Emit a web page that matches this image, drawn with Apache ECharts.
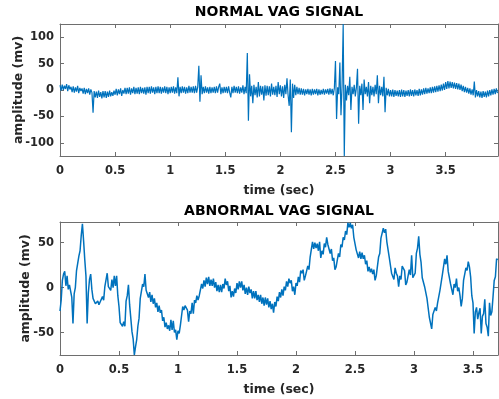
<!DOCTYPE html>
<html>
<head>
<meta charset="utf-8">
<script src="https://cdn.jsdelivr.net/npm/echarts@6/dist/echarts.min.js"></script>
<style>
html,body{margin:0;padding:0;background:#fff;}
#chart{width:499px;height:399px;}
</style>
</head>
<body>
<div id="chart"></div>
<script>
// ---- Data ----
const titleTop = 'NORMAL VAG SIGNAL';
const titleBottom = 'ABNORMAL VAG SIGNAL';
const xName = 'time (sec)';
const yName = 'amplitude (mv)';

const sampleStepTop = 0.01;     // seconds between samples (normal signal)
const sampleStepBottom = 0.01;  // seconds between samples (abnormal signal)

// Normal VAG signal, mv, one row per 0.1 s
const normalSignal = [
  9,-1,10,0,8,2,11,-2,9,1,
  6,-4,7,-5,5,-3,8,-6,4,-2,
  3,-7,4,-8,2,-6,3,-9,1,-5,
  -43,-2,-14,-3,-15,-1,-13,-4,-16,-2,
  -14,-2,-15,-3,-13,-1,-12,-4,-11,-1,
  -9,2,-10,1,-8,3,-11,0,-7,4,
  -8,4,-7,5,-9,3,-6,6,-8,4,
  -7,5,-8,6,-6,4,-7,5,-9,6,
  -6,6,-7,7,-5,5,-8,6,-6,7,
  -6,6,-7,5,-5,7,-6,6,-8,5,
  -6,6,-5,7,-7,5,-6,24,-12,6,
  -6,7,-5,6,-7,5,-6,8,-5,6,
  -5,7,-6,8,-5,6,46,-22,28,-8,
  6,-6,7,-5,5,-7,6,-6,5,-5,
  6,-6,7,-5,6,12,-8,5,-6,6,
  -5,6,-6,7,-5,-14,6,-6,8,-5,
  6,-6,7,-7,5,-5,9,-8,6,-6,
  70,-58,30,-12,8,-25,10,-10,6,-14,
  15,-12,8,-9,7,-20,9,-11,8,-10,
  7,-12,12,-9,6,-10,8,-13,15,-8,
  9,-12,7,-15,10,-8,22,-10,-30,20,
  -80,12,-15,10,-10,6,-8,4,-9,3,
  -9,2,-10,1,-8,2,-9,1,-10,2,
  -9,1,-8,2,-10,1,-9,0,-8,2,
  -9,1,-7,2,-9,3,-8,2,-10,4,
  55,-55,5,-8,52,-48,8,125,-125,10,
  -20,8,-10,25,-38,6,-8,10,-12,5,
  40,-64,8,-10,12,-38,20,-8,6,-12,
  15,-25,8,-10,6,-12,10,-8,28,-25,
  8,-10,6,-12,25,-42,4,-10,2,-12,
  0,-12,1,-13,0,-11,-1,-12,0,-13,
  1,-12,0,-13,-1,-11,0,-12,1,-11,
  0,-12,1,-10,0,-11,2,-10,1,-9,
  3,-8,4,-7,3,-6,5,-6,6,-5,
  7,-4,8,-3,9,-2,10,-1,12,0,
  15,2,17,3,16,4,15,3,14,2,
  13,1,12,0,10,-2,8,-4,6,-5,
  4,-7,3,-9,1,-10,16,-14,0,-12,
  -2,-14,-3,-15,-2,-13,-3,-14,-1,-12,
  0,-10,1,-9,2,-8,3,-6
];

// Abnormal VAG signal, mv, one row per 0.1 s
const abnormalSignal = [
  -26,-14,8,15,18,2,13,-2,3,1,
  -11,-40,-7,0,19,19,35,41,58,71,
  52,31,13,-40,-6,9,15,-2,-12,-14,
  -18,-19,-15,-19,-16,-15,-10,-14,1,1,
  16,1,1,-3,9,0,13,2,13,-9,
  -21,-39,-37,-43,-38,-43,-15,-9,3,-19,
  -21,-49,-57,-75,-66,-58,-43,-34,-12,-10,
  4,1,15,-3,-1,-11,-5,-16,-8,-18,
  -12,-22,-17,-27,-20,-28,-25,-37,-33,-44,
  -39,-46,-42,-48,-36,-47,-37,-50,-47,-58,
  -48,-51,-42,-40,-21,-25,-20,-21,-25,-38,
  -26,-29,-17,-29,-14,-17,-9,-14,-9,-9,
  4,-1,8,1,11,4,12,2,9,2,
  10,0,6,-4,3,-5,3,-5,4,-1,
  10,3,7,-4,2,-11,-4,-10,-1,-6,
  5,-2,7,0,7,-3,3,-7,0,-8,
  1,-6,-2,-12,-4,-12,-4,-14,-8,-16,
  -8,-18,-11,-20,-11,-19,-12,-22,-15,-24,
  -18,-28,-16,-21,-10,-15,-5,-11,-2,-9,
  1,-3,7,1,10,5,8,-4,1,-8,
  5,2,12,6,19,16,20,8,13,11,
  24,20,34,35,51,43,50,44,49,41,
  51,33,41,37,49,45,56,48,49,38,
  43,30,33,20,23,23,38,34,48,45,
  56,53,63,59,72,67,72,66,70,56,
  57,42,43,33,40,32,39,32,36,26,
  30,18,23,17,21,15,20,8,13,14,
  34,38,55,53,66,61,65,51,51,34,
  32,16,14,9,22,16,13,1,13,9,
  24,23,19,3,6,7,20,14,36,11,
  13,16,38,44,57,37,28,11,13,1,
  2,-12,-11,-33,-31,-46,-30,-32,-22,-26,
  -17,-19,-3,-4,14,15,32,26,36,18,
  17,4,5,-8,4,0,10,-4,0,-9,
  -21,-12,8,7,22,19,29,23,12,-9,
  -17,-51,-27,-22,-35,-28,-23,-51,-32,-29,
  -13,-40,-44,-54,-17,-31,-27,-10,8,12,
  32,31
];

// Axis ticks
const xTicksTop = [0, 0.5, 1, 1.5, 2, 2.5, 3, 3.5];
const yTicksTop = [-100, -50, 0, 50, 100];
const xTicksBottom = [0, 0.5, 1, 1.5, 2, 2.5, 3, 3.5];
const yTicksBottom = [-50, 0, 50];

// Axis limits
const xRangeTop = [0, 3.975];
const yRangeTop = [-125, 125];
const xRangeBottom = [0, 3.712];
const yRangeBottom = [-75, 73];

// ---- Build chart ----
const FONT = 'DejaVu Sans';
const LINE_COLOR = '#0072BD';
const FRAME_COLOR = '#6e6e6e';
const TEXT_COLOR = '#262626';

const toPairs = (vals, dt) => vals.map((v, i) => [+(i * dt).toFixed(4), v]);

function xAxisDef(grid, pos, range, ticks, showLabels) {
  return {
    type: 'value', gridIndex: grid, position: pos,
    min: range[0], max: range[1],
    name: showLabels ? xName : '', nameLocation: 'middle', nameGap: 28, nameMoveOverlap: false,
    nameTextStyle: { fontFamily: FONT, fontWeight: 'bold', fontSize: 12.5, color: TEXT_COLOR },
    axisLine: { show: true, onZero: false, lineStyle: { color: FRAME_COLOR, width: 1 } },
    axisTick: { show: true, inside: true, length: 4, customValues: ticks, lineStyle: { color: FRAME_COLOR } },
    axisLabel: { show: showLabels, customValues: ticks, margin: 9, fontFamily: FONT, fontWeight: 'bold', fontSize: 11.5, color: TEXT_COLOR },
    splitLine: { show: false }
  };
}
function yAxisDef(grid, pos, range, ticks, showLabels, nameGap) {
  return {
    type: 'value', gridIndex: grid, position: pos,
    min: range[0], max: range[1],
    name: showLabels ? yName : '', nameLocation: 'middle', nameGap: nameGap, nameMoveOverlap: false,
    nameTextStyle: { fontFamily: FONT, fontWeight: 'bold', fontSize: 12.5, color: TEXT_COLOR },
    axisLine: { show: true, onZero: false, lineStyle: { color: FRAME_COLOR, width: 1 } },
    axisTick: { show: true, inside: true, length: 4, customValues: ticks, lineStyle: { color: FRAME_COLOR } },
    axisLabel: { show: showLabels, customValues: ticks, margin: 6, fontFamily: FONT, fontWeight: 'bold', fontSize: 11.5, color: TEXT_COLOR },
    splitLine: { show: false }
  };
}

const chart = echarts.init(document.getElementById('chart'), null, { renderer: 'canvas' });
chart.setOption({
  animation: false,
  backgroundColor: '#ffffff',
  title: [
    { text: titleTop, left: 279, top: 5, padding: 0, textAlign: 'center',
      textStyle: { fontFamily: FONT, fontWeight: 'bold', fontSize: 14, color: '#000' } },
    { text: titleBottom, left: 279, top: 204, padding: 0, textAlign: 'center',
      textStyle: { fontFamily: FONT, fontWeight: 'bold', fontSize: 14, color: '#000' } }
  ],
  grid: [
    { left: 60, top: 24, right: 1, height: 132, containLabel: false, outerBoundsMode: 'none' },
    { left: 60, top: 222, right: 1, height: 133, containLabel: false, outerBoundsMode: 'none' }
  ],
  xAxis: [
    xAxisDef(0, 'bottom', xRangeTop, xTicksTop, true),
    xAxisDef(0, 'top', xRangeTop, xTicksTop, false),
    xAxisDef(1, 'bottom', xRangeBottom, xTicksBottom, true),
    xAxisDef(1, 'top', xRangeBottom, xTicksBottom, false)
  ],
  yAxis: [
    yAxisDef(0, 'left', yRangeTop, yTicksTop, true, 35),
    yAxisDef(0, 'right', yRangeTop, yTicksTop, false, 0),
    yAxisDef(1, 'left', yRangeBottom, yTicksBottom, true, 28),
    yAxisDef(1, 'right', yRangeBottom, yTicksBottom, false, 0)
  ],
  series: [
    { type: 'line', xAxisIndex: 0, yAxisIndex: 0, data: toPairs(normalSignal, sampleStepTop),
      showSymbol: false, symbol: 'none', clip: true, lineStyle: { color: LINE_COLOR, width: 1.2 } },
    { type: 'line', xAxisIndex: 2, yAxisIndex: 2, data: toPairs(abnormalSignal, sampleStepBottom),
      showSymbol: false, symbol: 'none', clip: true, lineStyle: { color: LINE_COLOR, width: 1.5 } }
  ]
});
</script>
</body>
</html>
